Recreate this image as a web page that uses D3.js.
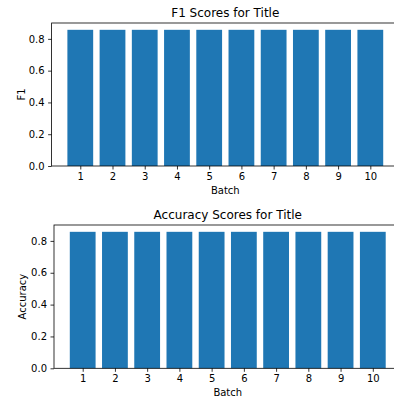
<!DOCTYPE html>
<html><head><meta charset="utf-8">
<script src="https://cdn.jsdelivr.net/npm/d3@7"></script>
<style>
body{margin:0;background:#fff;}
svg{display:block;font-family:"DejaVu Sans",sans-serif;}
</style></head>
<body>
<svg id="c" width="394" height="400"></svg>
<script>
const batches = [1,2,3,4,5,6,7,8,9,10];
const f1Scores = [0.857,0.857,0.857,0.857,0.857,0.857,0.857,0.857,0.857,0.857];
const accuracyScores = [0.857,0.857,0.857,0.857,0.857,0.857,0.857,0.857,0.857,0.857];
const yTicks = [0.0,0.2,0.4,0.6,0.8];
const titles = ["F1 Scores for Title","Accuracy Scores for Title"];
const yLabels = ["F1","Accuracy"];
const xLabel = "Batch";

const svg = d3.select("#c");
const panels = [
  {vals:f1Scores, title:titles[0], ylab:yLabels[0], x0:51.6, x1:399, y0:23, y1:166, ylabX:21.5},
  {vals:accuracyScores, title:titles[1], ylab:yLabels[1], x0:54, x1:401.5, y0:225, y1:368.3, ylabX:22.5}
];
const color = "#1f77b4";

panels.forEach(p=>{
  const g = svg.append("g");
  const x = d3.scaleLinear().domain([0.11,10.89]).range([p.x0,p.x1]);
  const ymax = d3.max(p.vals)*1.05;
  const y = d3.scaleLinear().domain([0,ymax]).range([p.y1,p.y0]);
  const bw = x(1.8)-x(1);
  g.selectAll("rect").data(p.vals).join("rect")
    .attr("x",(d,i)=>x(batches[i])-bw/2)
    .attr("width",bw)
    .attr("y",d=>y(d))
    .attr("height",d=>y(0)-y(d))
    .attr("fill",color);
  // x axis
  const xa = g.append("g").attr("transform",`translate(0,${p.y1})`)
    .call(d3.axisBottom(x).tickValues(batches).tickSize(3.5).tickPadding(3.5).tickFormat(d3.format("d")));
  const ya = g.append("g").attr("transform",`translate(${p.x0},0)`)
    .call(d3.axisLeft(y).tickValues(yTicks).tickSize(3.5).tickPadding(3.5).tickFormat(d3.format(".1f")));
  [xa,ya].forEach(a=>{
    a.select(".domain").remove();
    a.selectAll("line").attr("stroke","#000").attr("stroke-width",0.8);
    a.selectAll("text").attr("font-size",10).attr("fill","#000").attr("font-family","DejaVu Sans");
  });
  // spines
  g.append("rect").attr("x",p.x0).attr("y",p.y0).attr("width",p.x1-p.x0).attr("height",p.y1-p.y0)
    .attr("fill","none").attr("stroke","#000").attr("stroke-width",0.8);
  // title
  g.append("text").attr("x",(p.x0+p.x1)/2).attr("y",p.y0-6).attr("text-anchor","middle")
    .attr("font-size",12).attr("fill","#000").text(p.title);
  g.append("text").attr("x",(p.x0+p.x1)/2).attr("y",p.y1+28).attr("text-anchor","middle")
    .attr("font-size",10).attr("fill","#000").text(xLabel);
  g.append("text").attr("transform",`translate(${p.ylabX},${(p.y0+p.y1)/2}) rotate(-90)`)
    .attr("text-anchor","middle").attr("dy","0.35em")
    .attr("font-size",10).attr("fill","#000").text(p.ylab);
});
</script>
</body></html>
